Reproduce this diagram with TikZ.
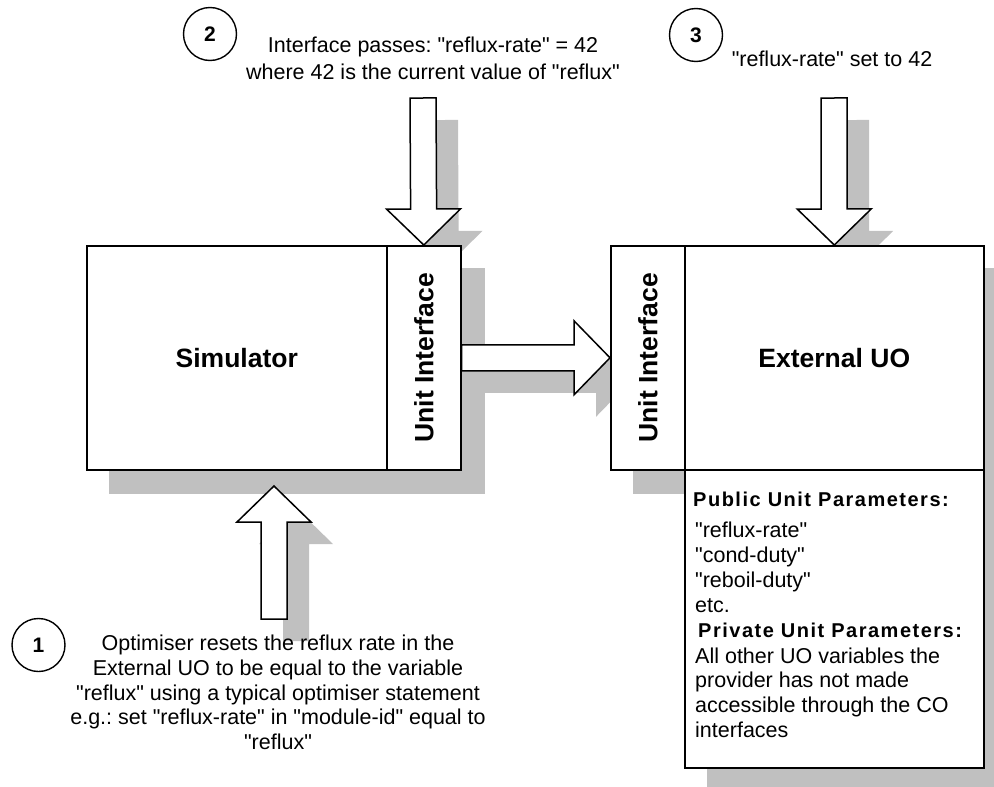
\documentclass[tikz,border=0pt]{standalone}
\usepackage{fontspec}
\setmainfont{Liberation Sans}[Ligatures=TeXOff]
\newfontfamily\headfont{Liberation Sans}[Ligatures=TeXOff,LetterSpace=7.5]
\usetikzlibrary{calc}
\pgfdeclarelayer{shadow}
\pgfsetlayers{shadow,main}
\definecolor{shadowgray}{HTML}{C0C0C0}
\frenchspacing

% the four block arrows, drawn once as shadows and once as outlines
\newcommand{\drawblockarrows}[1]{%
  \path[barrow,#1] (a2tail) to (simUI.north);
  \path[barrow,#1] (a3tail) to (ext.north);
  \path[barrow,#1] (simUI.east) to (extUI.west);
  \path[barrow,#1] (a1tail) to (a1tip);
}

\begin{document}
\begin{tikzpicture}[x=1pt,y=-1pt,
  outline/.style={draw=black,line width=1.6pt},
  unitbox/.style={outline,fill=white,rectangle,inner sep=0pt,
    minimum height=224pt,anchor=north west},
  boxlabel/.style={font=\fontsize{26.5}{30}\selectfont\bfseries},
  sidelabel/.style={boxlabel,rotate=90,inner sep=0pt},
  plain/.style={font=\fontsize{21.5}{24.75}\selectfont,inner sep=0pt},
  heading/.style={font=\fontsize{20}{24}\selectfont\headfont\bfseries,
    inner sep=0pt,anchor=base west},
  paramline/.style={plain,anchor=base west},
  stepmark/.style={outline,line width=1.4pt,circle,minimum size=53pt,
    inner sep=0pt,font=\fontsize{21}{24}\selectfont\bfseries},
  barrow/.style={to path={
    ($(\tikztostart)!13pt!90:(\tikztotarget)$)
    -- ($(\tikztotarget)!36pt!(\tikztostart)!13pt!90:(\tikztotarget)$)
    -- ($(\tikztotarget)!36pt!(\tikztostart)!37pt!90:(\tikztotarget)$)
    -- (\tikztotarget)
    -- ($(\tikztotarget)!36pt!(\tikztostart)!37pt!-90:(\tikztotarget)$)
    -- ($(\tikztotarget)!36pt!(\tikztostart)!13pt!-90:(\tikztotarget)$)
    -- ($(\tikztostart)!13pt!-90:(\tikztotarget)$)
    -- cycle}},
  arrowbody/.style={outline,line width=1.5pt,fill=white,line join=miter},
  shadowbody/.style={fill=shadowgray,draw=none},
]
\useasboundingbox (0,0) rectangle (994,787);

% simulator with its unit interface
\node[unitbox,minimum width=300pt,boxlabel] (sim) at (86,245) {Simulator};
\node[unitbox,minimum width=74pt] (simUI) at (386,245) {};
\node[sidelabel] (simUItext) at (simUI.center) {Unit Interface};

% external unit operation with its unit interface and parameter list
\node[unitbox,minimum width=74pt] (extUI) at (610,245) {};
\node[sidelabel] (extUItext) at (extUI.center) {Unit Interface};
\node[unitbox,minimum width=299pt,boxlabel] (ext) at (684,245) {External UO};
\node[unitbox,minimum width=299pt,minimum height=298pt] (params) at (684,469) {};

\node[heading] (pubhead) at (693,506) {Public Unit Parameters:};
\node[paramline] (pub1) at (695,537) {"reflux-rate"};
\node[paramline] (pub2) at (695,562) {"cond-duty"};
\node[paramline] (pub3) at (695,587) {"reboil-duty"};
\node[paramline] (pub4) at (695,612) {etc.};
\node[heading] (privhead) at (698,637) {Private Unit Parameters:};
\node[paramline] (priv1) at (695,663) {All other UO variables the};
\node[paramline] (priv2) at (695,687) {provider has not made};
\node[paramline] (priv3) at (695,712) {accessible through the CO};
\node[paramline] (priv4) at (695,737) {interfaces};

% free ends of the block arrows
\coordinate (a2tail) at (423,98);
\coordinate (a3tail) at (834,98);
\coordinate (a1tail) at (274,619);
\coordinate (a1tip) at (274,486);

% numbered steps and their notes
\node[stepmark] (num2) at (210,34) {2};
\node[plain,align=center,anchor=south,font=\fontsize{21.5}{27}\selectfont]
  (note2) at (433,80)
  {Interface passes: "reflux-rate" = 42\\where 42 is the current value of "reflux"};
\node[stepmark] (num3) at (696,35) {3};
\node[plain,anchor=base] (note3) at (832,66) {"reflux-rate" set to 42};
\node[stepmark] (num1) at (38.5,645) {1};
\node[plain,align=center,anchor=south] (note1) at (278,750)
  {Optimiser resets the reflux rate in the\\
   External UO to be equal to the variable\\
   "reflux" using a typical optimiser statement\\
   e.g.: set "reflux-rate" in "module-id" equal to\\
   "reflux"};

% block arrows
\drawblockarrows{arrowbody}

% drop shadows behind everything
\begin{pgfonlayer}{shadow}
  \begin{scope}[transform canvas={shift={(23pt,-23pt)}}]
    \fill[shadowbody] (sim.north west) rectangle (simUI.south east);
    \fill[shadowbody] (extUI.north west) rectangle (ext.south east);
    \fill[shadowbody] (params.north west) rectangle (params.south east);
  \end{scope}
  \begin{scope}[transform canvas={shift={(22pt,-22pt)}}]
    \drawblockarrows{shadowbody}
  \end{scope}
\end{pgfonlayer}
\end{tikzpicture}
\end{document}
